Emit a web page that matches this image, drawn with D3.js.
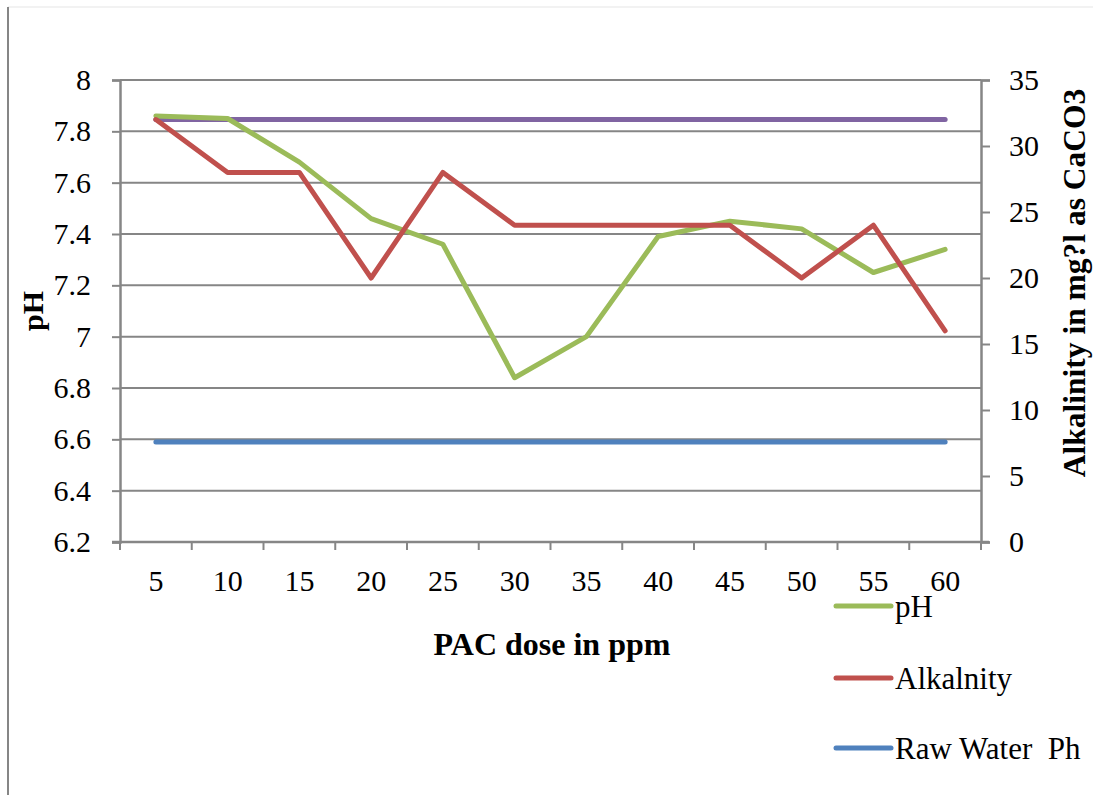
<!DOCTYPE html>
<html>
<head>
<meta charset="utf-8">
<script src="https://cdn.jsdelivr.net/npm/d3@7"></script>
<style>
  body { margin: 0; background: #fff; }
  svg { display: block; }
</style>
</head>
<body>
<svg id="chart"></svg>
<script>
'use strict';

// PAC dose categories (ppm)
const doses = [5, 10, 15, 20, 25, 30, 35, 40, 45, 50, 55, 60];

// pH after treatment (left axis)
const phValues = [7.86, 7.85, 7.68, 7.46, 7.36, 6.84, 7.0, 7.39, 7.45, 7.42, 7.25, 7.34];

// alkalinity in mg/l as CaCO3 (right axis)
const alkValues = [32, 28, 28, 20, 28, 24, 24, 24, 24, 20, 24, 16];

// raw water reference values
const rawPh = [6.59, 6.59, 6.59, 6.59, 6.59, 6.59, 6.59, 6.59, 6.59, 6.59, 6.59, 6.59];
const rawAlk = [32, 32, 32, 32, 32, 32, 32, 32, 32, 32, 32, 32];

const leftTicks = [6.2, 6.4, 6.6, 6.8, 7, 7.2, 7.4, 7.6, 7.8, 8];
const rightTicks = [0, 5, 10, 15, 20, 25, 30, 35];

const opts = {
	width: 1093,
	height: 795,
	left: 120,
	right: 981,
	top: 80,
	bottom: 542,
	gridColor: '#868686',
	font: '"Liberation Serif", "DejaVu Serif", serif',
	tickFont: 30,
	legendFont: 31,
	titleFont: 30
};

const svg = d3.select('#chart')
	.attr('width', opts.width)
	.attr('height', opts.height)
	.style('font-family', opts.font);

// frame edges seen in the picture
svg.append('line')
	.attr('x1', 8).attr('x2', 1093).attr('y1', 7).attr('y2', 7)
	.attr('stroke', '#eeeeee').attr('stroke-width', 1.5);
svg.append('line')
	.attr('x1', 8).attr('x2', 8).attr('y1', 7).attr('y2', 795)
	.attr('stroke', '#868686').attr('stroke-width', 2);

const x = d3.scaleBand()
	.domain(doses)
	.range([opts.left, opts.right])
	.padding(0);

const yLeft = d3.scaleLinear()
	.domain([6.2, 8])
	.range([opts.bottom, opts.top]);

const yRight = d3.scaleLinear()
	.domain([0, 35])
	.range([opts.bottom, opts.top]);

const cx = (d) => x(d) + x.bandwidth() / 2;

// horizontal gridlines from the left axis
svg.append('g')
	.selectAll('line')
	.data(leftTicks.slice(1))
	.join('line')
	.attr('x1', opts.left)
	.attr('x2', opts.right)
	.attr('y1', (d) => yLeft(d))
	.attr('y2', (d) => yLeft(d))
	.attr('stroke', opts.gridColor)
	.attr('stroke-width', 2);

// left axis
const leftAxis = svg.append('g')
	.attr('transform', `translate(${opts.left},0)`)
	.call(d3.axisLeft(yLeft).tickValues(leftTicks).tickSize(8).tickPadding(21)
		.tickFormat((d) => d3.format('~g')(d)));

// right axis
const rightAxis = svg.append('g')
	.attr('transform', `translate(${opts.right},0)`)
	.call(d3.axisRight(yRight).tickValues(rightTicks).tickSize(9).tickPadding(19));

// bottom axis, ticks between categories
const bottomAxis = svg.append('g')
	.attr('transform', `translate(0,${opts.bottom})`)
	.call(d3.axisBottom(x).tickSize(0).tickPadding(28));

svg.append('g')
	.selectAll('line')
	.data(d3.range(doses.length + 1))
	.join('line')
	.attr('x1', (i) => opts.left + i * x.bandwidth())
	.attr('x2', (i) => opts.left + i * x.bandwidth())
	.attr('y1', opts.bottom)
	.attr('y2', opts.bottom + 8)
	.attr('stroke', opts.gridColor)
	.attr('stroke-width', 2);

[leftAxis, rightAxis, bottomAxis].forEach((g) => {
	g.attr('font-family', opts.font).attr('font-size', opts.tickFont);
	g.select('.domain').attr('stroke', opts.gridColor).attr('stroke-width', 2.5);
	g.selectAll('.tick line').attr('stroke', opts.gridColor).attr('stroke-width', 2);
	g.selectAll('.tick text')
		.style('font-family', opts.font)
		.style('font-size', opts.tickFont + 'px')
		.style('fill', '#000');
});
bottomAxis.select('.domain').attr('d', `M${opts.left - 8},0H${opts.right + 8}`);

// series
const series = [
	{ name: 'Raw Water Alk', values: rawAlk, y: yRight, color: '#8064A2' },
	{ name: 'Raw Water  Ph', values: rawPh, y: yLeft, color: '#4F81BD' },
	{ name: 'Alkalnity', values: alkValues, y: yRight, color: '#C0504D' },
	{ name: 'pH', values: phValues, y: yLeft, color: '#9BBB59' }
];

const drawOrder = [series[1], series[0], series[3], series[2]];

drawOrder.forEach((s) => {
	const line = d3.line()
		.x((d, i) => cx(doses[i]))
		.y((d) => s.y(d));

	svg.append('path')
		.datum(s.values)
		.attr('d', line)
		.attr('fill', 'none')
		.attr('stroke', s.color)
		.attr('stroke-width', 5)
		.attr('stroke-linejoin', 'round')
		.attr('stroke-linecap', 'round');
});

// axis titles
const title = (sel) => sel
	.attr('text-anchor', 'middle')
	.style('font-family', opts.font)
	.style('font-weight', 'bold')
	.style('font-size', opts.titleFont + 'px');

svg.append('text')
	.attr('transform', `translate(43,${(opts.top + opts.bottom) / 2}) rotate(-90)`)
	.call(title)
	.text('pH');

svg.append('text')
	.attr('transform', 'translate(1085,283) rotate(-90)')
	.call(title)
	.style('font-size', '31.5px')
	.text('Alkalinity in mg?l as CaCO3');

svg.append('text')
	.attr('x', 552)
	.attr('y', 655)
	.call(title)
	.style('font-size', '32px')
	.text('PAC dose in ppm');

// legend (three entries shown)
const legendItems = [series[3], series[2], series[1]];
const legendY = [606, 678, 748];

const legend = svg.append('g')
	.selectAll('g')
	.data(legendItems)
	.join('g')
	.attr('transform', (d, i) => `translate(836,${legendY[i]})`);

legend.append('line')
	.attr('x1', 0).attr('x2', 55)
	.attr('stroke', (d) => d.color)
	.attr('stroke-width', 5)
	.attr('stroke-linecap', 'round');

legend.append('text')
	.attr('x', 59)
	.attr('y', 11)
	.style('font-family', opts.font)
	.style('font-size', opts.legendFont + 'px')
	.style('white-space', 'pre')
	.text((d) => d.name);
</script>
</body>
</html>
